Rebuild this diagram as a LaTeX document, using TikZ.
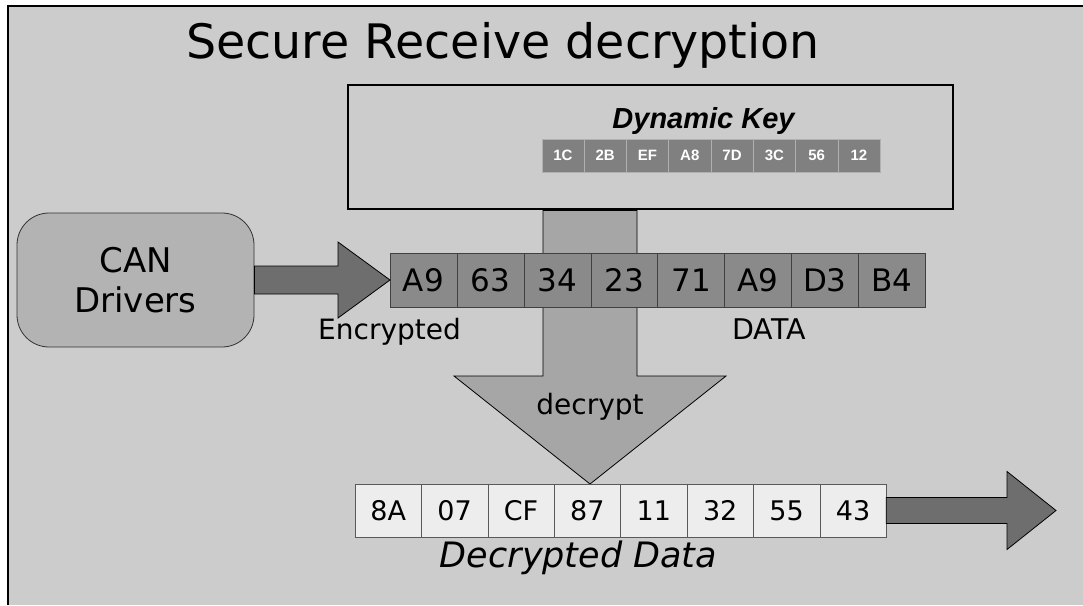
\documentclass[tikz,border=0pt]{standalone}
\usepackage{fontspec}
\setmainfont{DejaVu Sans}
\newfontfamily\keyfont{Liberation Sans}
\usetikzlibrary{positioning,calc}
\definecolor{slide}{HTML}{CCCCCC}
\definecolor{drvgray}{HTML}{B3B3B3}
\definecolor{darkarr}{HTML}{6E6E6E}
\definecolor{keygray}{HTML}{808080}
\definecolor{keyline}{HTML}{B0B0B0}
\definecolor{encgray}{HTML}{8A8A8A}
\definecolor{midgray}{HTML}{A6A6A6}
\definecolor{decgray}{HTML}{EDEDED}
\tikzset{keycell/.style={draw=keyline,fill=keygray,text=white,font=\keyfont\bfseries\fontsize{15}{18}\selectfont,
 minimum width=42.3pt,minimum height=33pt,inner sep=0pt,outer sep=0pt},
 enccell/.style={draw=black!75,fill=encgray,font=\fontsize{31}{36}\selectfont,minimum width=66.9pt,
 minimum height=54pt,inner sep=0pt,outer sep=0pt},
 deccell/.style={draw=black!65,fill=decgray,font=\fontsize{27}{32}\selectfont,minimum width=66.4pt,
 minimum height=53pt,inner sep=0pt,outer sep=0pt},
 blockarr/.style={draw=black,line width=0.8pt,line join=miter},
 lbl/.style={anchor=base,inner sep=0pt}}

\begin{document}
\begin{tikzpicture}[x=1pt,y=-1pt]
\useasboundingbox (0,0) rectangle (1083,605);
\fill[white] (0,0) rectangle (1083,605);
\fill[slide] (8,6) rectangle (1083,605);
\draw[line width=1.5pt] (8,605) |- (1083,6);
\node[lbl,anchor=base west,font=\fontsize{47.5}{52}\selectfont] (title) at (186,58) {Secure Receive decryption};
% decrypt arrow, drawn under the key box and the data row
\coordinate (tip) at (590,484);
\node[draw,line width=2.7pt,minimum width=605pt,minimum height=124pt,inner sep=0pt] (key) at (650.5,147) {};
\draw[blockarr,fill=midgray] ($(tip |- key.south)+(-47,0)$) -- ($(tip)+(-47,-108)$) -- ($(tip)+(-136,-108)$)
 -- (tip) -- ($(tip)+(136,-108)$) -- ($(tip)+(47,-108)$) -- ($(tip |- key.south)+(47,0)$) -- cycle;
\node[lbl,font=\keyfont\bfseries\itshape\fontsize{29}{34}\selectfont] (keylabel) at (703.5,128) {Dynamic Key};
\foreach \v [count=\i] in {1C,2B,EF,A8,7D,3C,56,12}
 \node[keycell] (k\i) at ({541.7+42.3*(\i-0.5)},155.5) {\v};
% CAN drivers and encrypted frame
\node[draw=black!80,line width=0.8pt,fill=drvgray,rounded corners=32pt,minimum width=237pt,minimum height=134pt,
 align=center,font=\fontsize{34}{40}\selectfont] (can) at (135.5,280) {CAN\\Drivers};
\foreach \v [count=\i] in {A9,63,34,23,71,A9,D3,B4}
 \node[enccell] (e\i) at ({390+66.9*(\i-0.5)},280) {\v};
\draw[blockarr,fill=darkarr] ($(can.east)+(0,-14)$) -- ($(e1.west)+(-52,-14)$) -- ($(e1.west)+(-52,-38)$)
 -- (e1.west) -- ($(e1.west)+(-52,38)$) -- ($(e1.west)+(-52,14)$) -- ($(can.east)+(0,14)$) -- cycle;
\node[lbl,font=\fontsize{28}{32}\selectfont] (enclabel) at (389.5,339) {Encrypted};
\node[lbl,font=\fontsize{28.5}{32}\selectfont] (datalabel) at (769,339) {DATA};
\node[lbl,font=\fontsize{28}{32}\selectfont] (declabel) at (590,414) {decrypt};
% decrypted frame
\foreach \v [count=\i] in {8A,07,CF,87,11,32,55,43}
 \node[deccell] (d\i) at ({355+66.4*(\i-0.5)},510.5) {\v};
\coordinate (out) at (1056,510.5);
\draw[blockarr,fill=darkarr] ($(d8.east)+(0,-13)$) -- ($(out)+(-49,-13)$) -- ($(out)+(-49,-39)$)
 -- (out) -- ($(out)+(-49,39)$) -- ($(out)+(-49,13)$) -- ($(d8.east)+(0,13)$) -- cycle;
\node[lbl,font=\itshape\fontsize{35}{40}\selectfont] (plainlabel) at (578.5,567) {Decrypted Data};
\end{tikzpicture}
\end{document}
